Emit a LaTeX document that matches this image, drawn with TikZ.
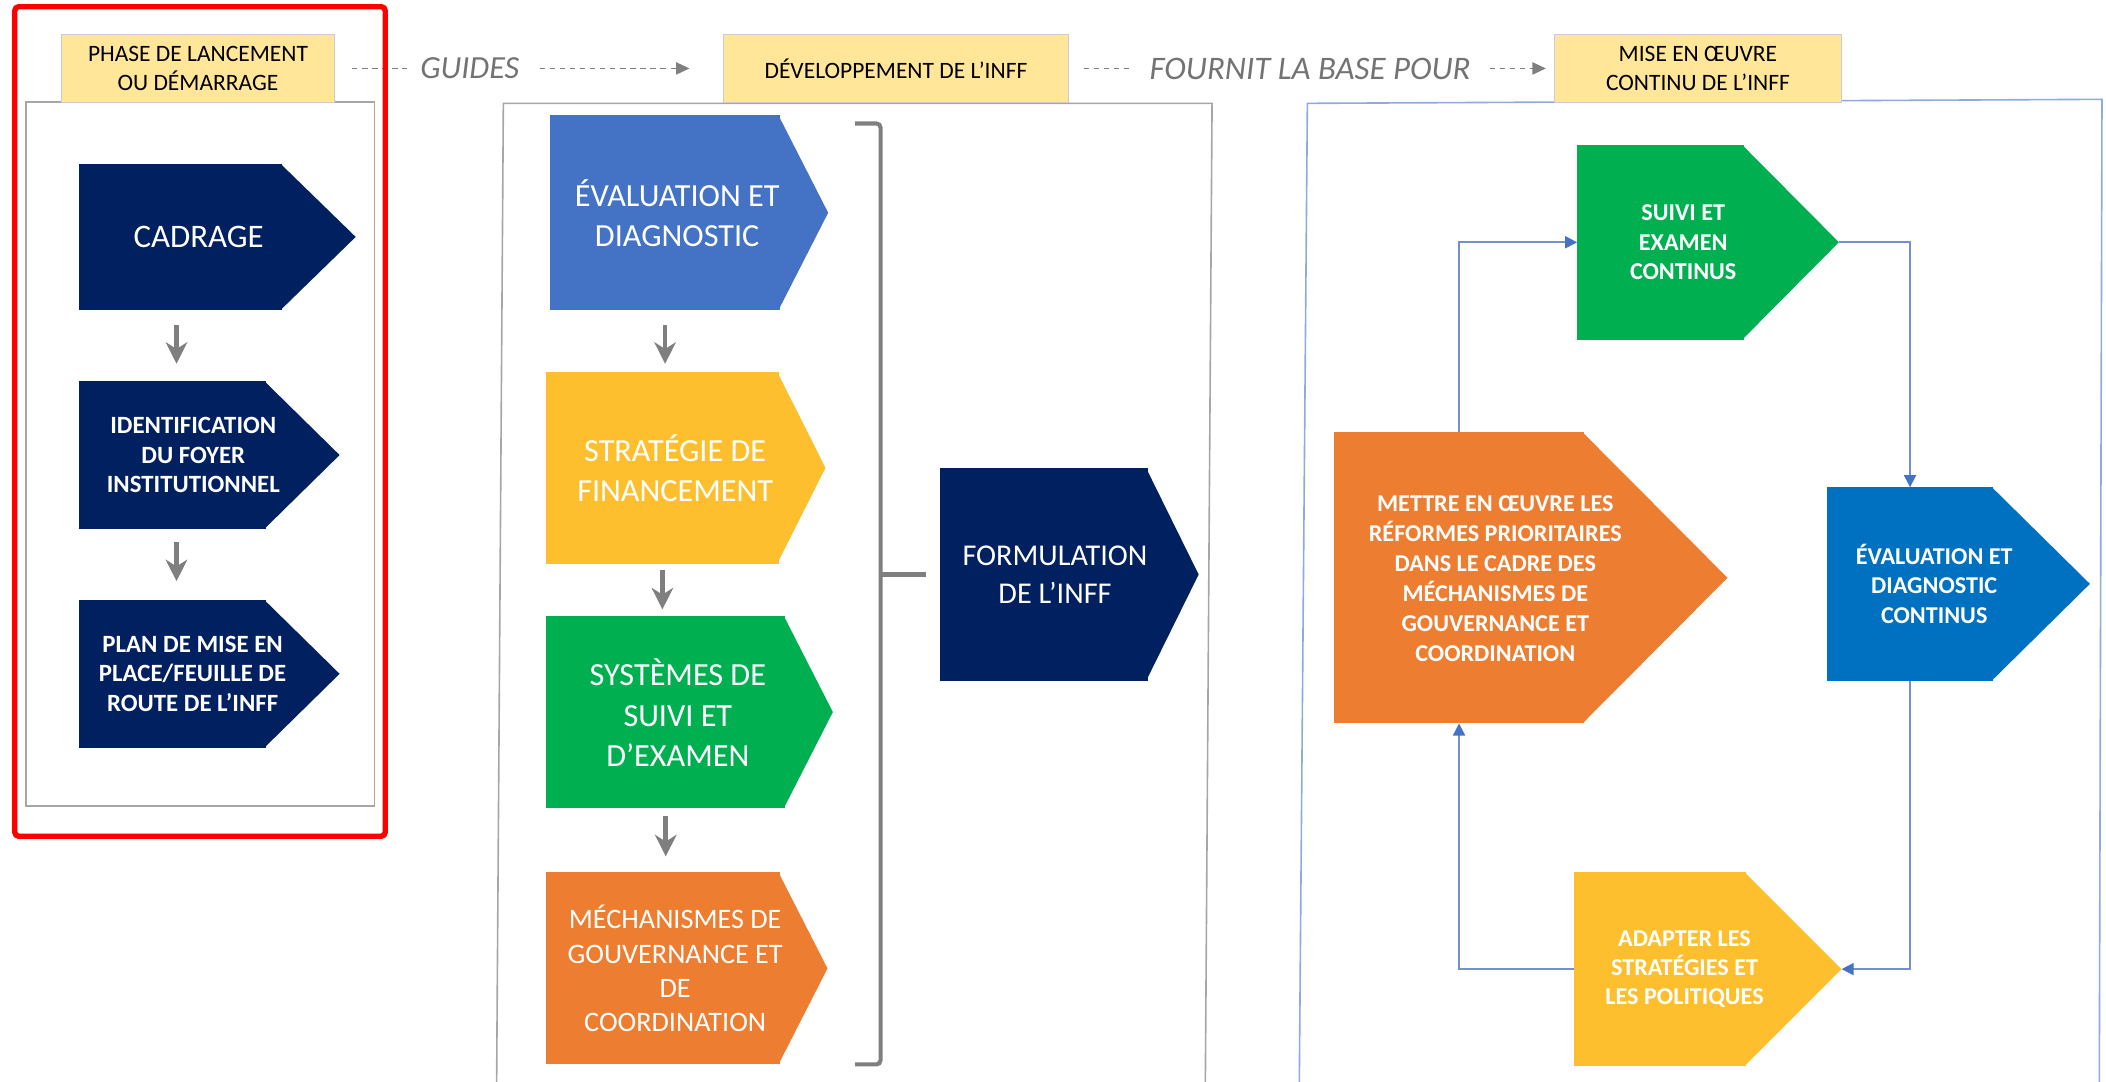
\documentclass[tikz,border=0pt]{standalone}
\usepackage{fontspec}
\setmainfont{Carlito}
\usetikzlibrary{arrows.meta}
\definecolor{navyinff}{HTML}{002060}
\definecolor{bleuinff}{HTML}{4472C4}
\definecolor{orinff}{HTML}{FDBF2D}
\definecolor{vertinff}{HTML}{00B050}
\definecolor{orangeinff}{HTML}{ED7D31}
\definecolor{bleuc}{HTML}{0070C0}
\definecolor{jaunehdr}{HTML}{FFE699}
\definecolor{grisfleche}{HTML}{7F7F7F}
\definecolor{gristexte}{HTML}{737373}
\definecolor{griscadre}{HTML}{A6A6A6}
\definecolor{bleucadre}{HTML}{8FAADC}
\definecolor{bleulien}{HTML}{7390CB}
\begin{document}
\begin{tikzpicture}[x=1pt, y=-1pt,
  box/.style={inner sep=0, outer sep=0},
  lbl/.style={text=white, align=center, inner sep=0},
  hdr/.style={fill=jaunehdr, draw=black!20, line width=.6, align=center, inner sep=0,
    minimum height=50, font=\fontsize{17.5}{21.5}\selectfont},
  cadre/.style={draw=griscadre, line width=1.2},
  downarrow/.style={-{Stealth[length=16, width=16, inset=5]}, draw=grisfleche, line width=3.5},
  dashy/.style={draw=grisfleche, line width=1.3, dash pattern=on 4 off 3.5},
  lien/.style={draw=bleulien, line width=1.2, -{Triangle[length=9, width=9, color=bleuinff]}},
  brace/.style={draw=grisfleche, line width=3, rounded corners=3}]
\useasboundingbox (0,0) rectangle (1569,806);
% cadres
\draw[cadre] (19.5,76) rectangle (279,600.5);
\draw[cadre] (370,806) -- (375,77) -- (903,77) -- (898,806);
\draw[cadre, draw=bleucadre] (968,806) -- (974,77) -- (1566,74) -- (1564,806);

% phases
\node[hdr, minimum width=203] (hdr1) at (147.5,51) {PHASE DE LANCEMENT\\OU DÉMARRAGE};
\node[hdr, minimum width=257] (hdr2) at (667.5,51) {DÉVELOPPEMENT DE L’INFF};
\node[hdr, minimum width=214] (hdr3) at (1265,51) {MISE EN ŒUVRE\\CONTINU DE L’INFF};
\node[text=gristexte, font=\itshape\fontsize{24}{28}\selectfont, inner xsep=10] (guides) at (350,51) {GUIDES};
\node[text=gristexte, font=\itshape\fontsize{24.5}{28}\selectfont, inner xsep=14] (fournit) at (976,51) {FOURNIT LA BASE POUR};
\draw[dashy] ([xshift=13]hdr1.east) -- (guides.west);
\draw[dashy, -{Triangle[length=10, width=9]}, shorten <=5, shorten >=25] (guides.east) -- (hdr2.west);
\draw[dashy] ([xshift=11]hdr2.east) -- (fournit.west);
\draw[dashy, -{Triangle[length=10, width=9]}, shorten >=6] (fournit.east) -- (hdr3.west);

% lancement
\node[box, fill=navyinff, minimum width=151, minimum height=109] (cadrage) at (134.5,176.5) {};
\fill[navyinff] ([xshift=-1]cadrage.north east) -- ++(56,54.5) -- ([xshift=-1]cadrage.south east) -- cycle;
\node[lbl, font=\fontsize{24.5}{30}\selectfont] (t-cadrage) at (148,176.5) {CADRAGE};
\node[box, fill=navyinff, minimum width=139, minimum height=110] (ident) at (128.5,339) {};
\fill[navyinff] ([xshift=-1]ident.north east) -- ++(56,55) -- ([xshift=-1]ident.south east) -- cycle;
\node[lbl, font=\bfseries\fontsize{18.5}{22}\selectfont] (t-ident) at (144,339) {IDENTIFICATION\\DU FOYER\\INSTITUTIONNEL};
\node[box, fill=navyinff, minimum width=139, minimum height=110] (plan) at (128.5,502) {};
\fill[navyinff] ([xshift=-1]plan.north east) -- ++(56,55) -- ([xshift=-1]plan.south east) -- cycle;
\node[lbl, font=\bfseries\fontsize{18.5}{22}\selectfont] (t-plan) at (143.5,502) {PLAN DE MISE EN\\PLACE/FEUILLE DE\\ROUTE DE L’INFF};
\draw[downarrow, shorten <=11, shorten >=13] ([xshift=-3]cadrage.south) -- ([xshift=3]ident.north);
\draw[downarrow, shorten <=10, shorten >=14] ([xshift=3]ident.south) -- ([xshift=3]plan.north);

% developpement
\node[box, fill=bleuinff, minimum width=171, minimum height=145] (evald) at (495.5,158.5) {};
\fill[bleuinff] ([xshift=-1]evald.north east) -- ++(37,72.5) -- ([xshift=-1]evald.south east) -- cycle;
\node[lbl, font=\fontsize{24}{30}\selectfont] (t-evald) at (504.5,159) {ÉVALUATION ET\\DIAGNOSTIC};
\node[box, fill=orinff, minimum width=173, minimum height=143] (strat) at (493.5,348.5) {};
\fill[orinff] ([xshift=-1]strat.north east) -- ++(36,71.5) -- ([xshift=-1]strat.south east) -- cycle;
\node[lbl, font=\fontsize{24}{30}\selectfont] (t-strat) at (503,349) {STRATÉGIE DE\\FINANCEMENT};
\node[box, fill=vertinff, minimum width=178, minimum height=143] (syst) at (496,530.5) {};
\fill[vertinff] ([xshift=-1]syst.north east) -- ++(36.5,71.5) -- ([xshift=-1]syst.south east) -- cycle;
\node[lbl, font=\fontsize{24}{30}\selectfont] (t-syst) at (505,531) {SYSTÈMES DE\\SUIVI ET\\D’EXAMEN};
\node[box, fill=orangeinff, minimum width=174, minimum height=143] (mecha) at (494,721.5) {};
\fill[orangeinff] ([xshift=-1]mecha.north east) -- ++(36.5,71.5) -- ([xshift=-1]mecha.south east) -- cycle;
\node[lbl, font=\fontsize{21}{25.5}\selectfont] (t-mecha) at (503,721.5) {MÉCHANISMES DE\\GOUVERNANCE ET\\DE\\COORDINATION};
\node[box, fill=navyinff, minimum width=155, minimum height=158] (formul) at (777.5,428) {};
\fill[navyinff] ([xshift=-1]formul.north east) -- ++(39,79) -- ([xshift=-1]formul.south east) -- cycle;
\node[lbl, font=\fontsize{22.5}{28}\selectfont] (t-formul) at (786,428) {FORMULATION\\DE L’INFF};
\draw[downarrow, shorten <=11, shorten >=6] (evald.south) -- (evald.south |- strat.north);
\draw[downarrow, shorten <=5, shorten >=5] (strat.south) -- (strat.south |- syst.north);
\draw[downarrow, shorten <=6, shorten >=12] (syst.south) -- (syst.south |- mecha.north);
\draw[brace] (637,92) -- (656,92) -- (656,793) -- (637,793);
\draw[brace] (656,428) -- ([xshift=-10]formul.west);

% mise en oeuvre
\node[box, fill=vertinff, minimum width=124, minimum height=145] (suivi) at (1237,180.5) {};
\fill[vertinff] ([xshift=-1]suivi.north east) -- ++(72,72.5) -- ([xshift=-1]suivi.south east) -- cycle;
\node[lbl, font=\bfseries\fontsize{18}{21.7}\selectfont] (t-suivi) at (1254,180.5) {SUIVI ET\\EXAMEN\\CONTINUS};
\node[box, fill=orangeinff, minimum width=186, minimum height=217] (mettre) at (1087,430.5) {};
\fill[orangeinff] ([xshift=-1]mettre.north east) -- ++(108,108.5) -- ([xshift=-1]mettre.south east) -- cycle;
\node[lbl, font=\bfseries\fontsize{18}{22.4}\selectfont] (t-mettre) at (1114,431) {METTRE EN ŒUVRE LES\\RÉFORMES PRIORITAIRES\\DANS LE CADRE DES\\MÉCHANISMES DE\\GOUVERNANCE ET\\COORDINATION};
\node[box, fill=bleuc, minimum width=124, minimum height=144] (evalc) at (1423,435) {};
\fill[bleuc] ([xshift=-1]evalc.north east) -- ++(73,72) -- ([xshift=-1]evalc.south east) -- cycle;
\node[lbl, font=\bfseries\fontsize{18}{21.7}\selectfont] (t-evalc) at (1441,435) {ÉVALUATION ET\\DIAGNOSTIC\\CONTINUS};
\node[box, fill=orinff, minimum width=128, minimum height=144] (adapt) at (1237,722) {};
\fill[orinff] ([xshift=-1]adapt.north east) -- ++(72,72) -- ([xshift=-1]adapt.south east) -- cycle;
\node[lbl, font=\bfseries\fontsize{18}{21.7}\selectfont] (t-adapt) at (1255,722) {ADAPTER LES\\STRATÉGIES ET\\LES POLITIQUES};
\draw[lien] (mettre.north) |- (suivi.west);
\draw[lien] ([xshift=71]suivi.east) -| (evalc.north);
\draw[lien] (evalc.south) |- ([xshift=71]adapt.east);
\draw[lien] (adapt.west) -| (mettre.south);

\draw[red, line width=4, rounded corners=3] (11,5) rectangle (287,623);
\end{tikzpicture}
\end{document}
